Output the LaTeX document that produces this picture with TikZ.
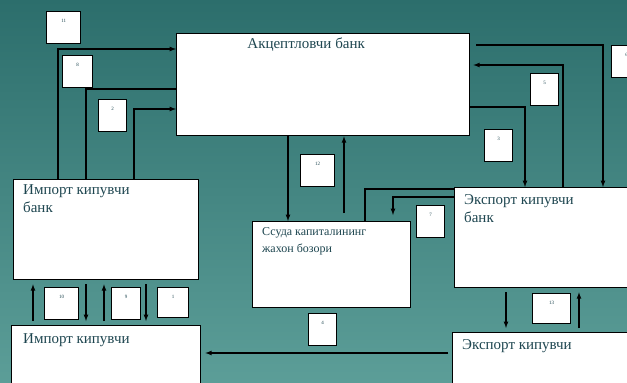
\documentclass[tikz,border=0pt]{standalone}
\usepackage{fontspec}
\setmainfont{Liberation Serif}
\usetikzlibrary{arrows, positioning, calc}
\definecolor{bgtop}{RGB}{44,110,108}
\definecolor{bgbot}{RGB}{92,158,152}
\definecolor{txt}{RGB}{30,70,80}
\tikzset{
    >=latex,
    unit/.style={draw, line width=1.3pt, fill=white, anchor=north west, inner sep=0pt},
    title/.style={anchor=north west, align=left, text=txt, inner sep=0pt,
        font=\fontsize{15}{18}\selectfont},
    numbox/.style={draw, line width=1.4pt, fill=white, anchor=north west, inner sep=0pt,
        minimum height=32, label={[below=5pt, text=txt, font=\fontsize{5}{6}\selectfont]north:#1}},
    flow/.style={line width=1.2pt},
    gap/.style={shorten >=4pt, shorten <=4pt},
}

\begin{document}
\begin{tikzpicture}[x=1pt, y=-1pt]
    \clip (0,0) rectangle (627,383);
    \shade[top color=bgtop, bottom color=bgbot] (0,0) rectangle (627,383);

    % banks and buyers
    \node[unit, minimum width=293, minimum height=102,
        label={[title, anchor=north, xshift=-17pt, yshift=-5pt]north:Акцептловчи банк}] (acc) at (176,33) {};
    \node[unit, minimum width=185, minimum height=100,
        label={[title, xshift=10pt, yshift=-5pt]north west:Импорт кипувчи\\банк}] (ibank) at (13,179) {};
    \node[unit, minimum width=189, minimum height=70,
        label={[title, xshift=12pt, yshift=-8pt]north west:Импорт кипувчи}] (ibuy) at (11,325) {};
    \node[unit, minimum width=158, minimum height=86,
        label={[title, font=\fontsize{12}{17}\selectfont, xshift=10pt, yshift=-6pt]north west:Ссуда капиталининг\\жахон бозори}] (loan) at (252,221) {};
    \node[unit, minimum width=180, minimum height=100,
        label={[title, xshift=10pt, yshift=-7pt]north west:Экспорт кипувчи\\банк}] (ebank) at (454,187) {};
    \node[unit, minimum width=180, minimum height=60,
        label={[title, xshift=10pt, yshift=-7pt]north west:Экспорт кипувчи}] (ebuy) at (452,332) {};

    % numbers
    \node[numbox=11, minimum width=34] (n11) at (46,11) {};
    \node[numbox=8, minimum width=30] (n8) at (62,55) {};
    \node[numbox=2, minimum width=28] (n2) at (98,99) {};
    \node[numbox=12, minimum width=34] (n12) at (300,154) {};
    \node[numbox=5, minimum width=28] (n5) at (530,73) {};
    \node[numbox=3, minimum width=28] (n3) at (484,129) {};
    \node[numbox=6, minimum width=30] (n6) at (611,45) {};
    \node[numbox=7, minimum width=28] (n7) at (416,205) {};
    \node[numbox=4, minimum width=28] (n4) at (308,313) {};
    \node[numbox=10, minimum width=34] (n10) at (44,287) {};
    \node[numbox=9, minimum width=29] (n9) at (111,287) {};
    \node[numbox=1, minimum width=31, minimum height=30] (n1) at (157,287) {};
    \node[numbox=13, minimum width=38, minimum height=30] (n13) at (532,293) {};

    % flows
    \draw[flow, ->] (ibank.north -| 58,0) |- (acc.west |- 0,49);
    \draw[flow] (acc.west |- 0,89) -| (ibank.north -| 86,0);
    \draw[flow, ->] (ibank.north -| 134,0) |- (acc.west |- 0,109);
    \draw[flow, ->] (acc.south -| 288,0) -- (loan.north -| 288,0);
    \draw[flow, ->] ([yshift=8pt]loan.north -| 344,0) -- (acc.south -| 344,0);
    \draw[flow, ->] ([xshift=6pt]acc.east |- 0,45) -| (ebank.north -| 603,0);
    \draw[flow, ->] (ebank.north -| 563,0) |- ([xshift=3pt]acc.east |- 0,65);
    \draw[flow, ->] (acc.east |- 0,107) -| (ebank.north -| 525,0);
    \draw[flow] (ebank.west |- 0,189) -| (loan.north -| 365,0);
    \draw[flow, ->] (ebank.west |- 0,197) -| ([yshift=6pt]loan.north -| 393,0);
    \draw[flow, ->, gap] (ebank.south -| 506,0) -- (ebuy.north -| 506,0);
    \draw[flow, ->, gap] (ebuy.north -| 579,0) -- (ebank.south -| 579,0);
    \draw[flow, ->, gap] (ebuy.west |- 0,353) -- (ibuy.east |- 0,353);
    \draw[flow, ->, gap] (ibuy.north -| 33,0) -- (ibank.south -| 33,0);
    \draw[flow, ->, gap] (ibank.south -| 86,0) -- (ibuy.north -| 86,0);
    \draw[flow, ->, gap] (ibuy.north -| 104,0) -- (ibank.south -| 104,0);
    \draw[flow, ->, gap] (ibank.south -| 146,0) -- (ibuy.north -| 146,0);
\end{tikzpicture}
\end{document}
